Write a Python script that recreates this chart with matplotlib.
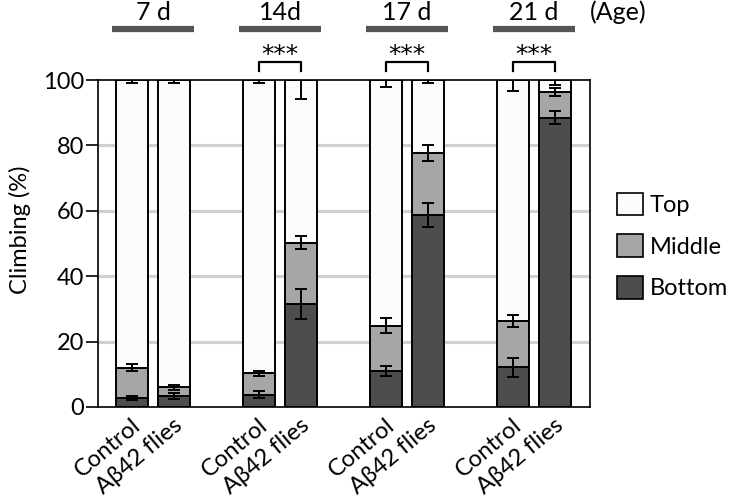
import numpy as np
import matplotlib.pyplot as plt
import matplotlib.transforms as mtransforms
from matplotlib.patches import Patch

plt.rcParams['font.family'] = ['Lato', 'DejaVu Sans']

# data (% of flies in each zone)
ages = ['7 d', '14d', '17 d', '21 d']
genotypes = ['Control', 'Aβ42 flies']

# order of bars: ctrl 7d, flies 7d, ctrl 14d, flies 14d, ...
bottom = [2.8, 3.4, 3.8, 31.4, 11.0, 58.6, 12.1, 88.5]
middle_top = [12.0, 6.0, 10.3, 50.3, 24.8, 77.6, 26.3, 96.3]
bottom_err = [0.7, 1.0, 1.2, 4.6, 1.5, 3.7, 2.9, 2.0]
middle_err = [1.0, 0.7, 0.8, 1.9, 2.3, 2.5, 1.7, 1.2]
top_err = [1.0, 1.0, 1.0, 5.9, 2.2, 1.0, 3.5, 1.5]
signif = ['', '***', '***', '***']

bottom = np.array(bottom)
middle_top = np.array(middle_top)
middle = middle_top - bottom
top = 100 - middle_top

c_top, c_mid, c_bot = '#fcfcfc', '#a6a6a6', '#4d4d4d'

fig = plt.figure(figsize=(7.36, 4.97), dpi=100)
ax = fig.add_axes([0.1332, 0.1811, 0.6684, 0.6579])

offset = 0.33
width = 0.252
x = []
for g in range(len(ages)):
    x += [g, g + offset]
x = np.array(x)

kw = dict(width=width, edgecolor='black', linewidth=1.4, zorder=2)
ax.bar(x, bottom, color=c_bot, **kw)
ax.bar(x, middle, bottom=bottom, color=c_mid, **kw)
ax.bar(x, top, bottom=middle_top, color=c_top, **kw)

ekw = dict(fmt='none', ecolor='black', elinewidth=1.4, capsize=4.5, capthick=1.4, zorder=3)
ax.errorbar(x, bottom, yerr=bottom_err, **ekw)
ax.errorbar(x, middle_top, yerr=middle_err, **ekw)
ax.errorbar(x, np.full(len(x), 100.0), yerr=[top_err, np.zeros(len(x))], **ekw)

ax.set_ylim(0, 100)
ax.set_xlim(-0.268, 3.606)
ax.set_yticks([0, 20, 40, 60, 80, 100])
ax.tick_params(axis='y', labelsize=17, length=9, width=1.2, pad=1)
ax.set_xticks(x)
ax.set_xticklabels(genotypes * len(ages), rotation=40, rotation_mode='anchor',
                   ha='right', va='center', fontsize=17)
ax.tick_params(axis='x', length=0, pad=11)
shift = mtransforms.ScaledTranslation(6 / 100, 0, fig.dpi_scale_trans)
for lbl in ax.get_xticklabels():
    lbl.set_transform(lbl.get_transform() + shift)
ax.set_ylabel('Climbing (%)', fontsize=17)
ax.yaxis.set_label_coords(-0.137, 0.543)
for s in ax.spines.values():
    s.set_linewidth(1.2)
for yv in [20, 40, 60, 80]:
    ax.axhline(yv, color='#d0d0d0', linewidth=2.2, zorder=0)

# age labels and significance brackets above the plot
for g, age in enumerate(ages):
    c = g + offset / 2
    ax.plot([c - 0.323, c + 0.323], [115.5, 115.5], color='#555555', lw=4.5,
            clip_on=False, solid_capstyle='butt')
    ax.text(c, 117.0, age, ha='center', va='bottom', fontsize=18, clip_on=False)
    if signif[g]:
        ax.plot([g, g, g + offset, g + offset], [102.7, 105.6, 105.6, 102.7],
                color='black', lw=1.6, clip_on=False)
        ax.text(c, 105.4, signif[g], ha='center', va='baseline', fontsize=18,
                family='DejaVu Sans', clip_on=False)
ax.text(3.83, 117.0, '(Age)', ha='center', va='bottom', fontsize=18, clip_on=False)

handles = [Patch(facecolor=c_top, edgecolor='black', linewidth=1.2, label='Top'),
           Patch(facecolor=c_mid, edgecolor='black', linewidth=1.2, label='Middle'),
           Patch(facecolor=c_bot, edgecolor='black', linewidth=1.2, label='Bottom')]
fig.legend(handles=handles, loc='center left', bbox_to_anchor=(0.838, 0.505),
           frameon=False, fontsize=17, handlelength=1.1, handleheight=1.1,
           handletextpad=0.3, labelspacing=0.77, borderpad=0, borderaxespad=0)

fig.savefig('out.png', dpi=100)
